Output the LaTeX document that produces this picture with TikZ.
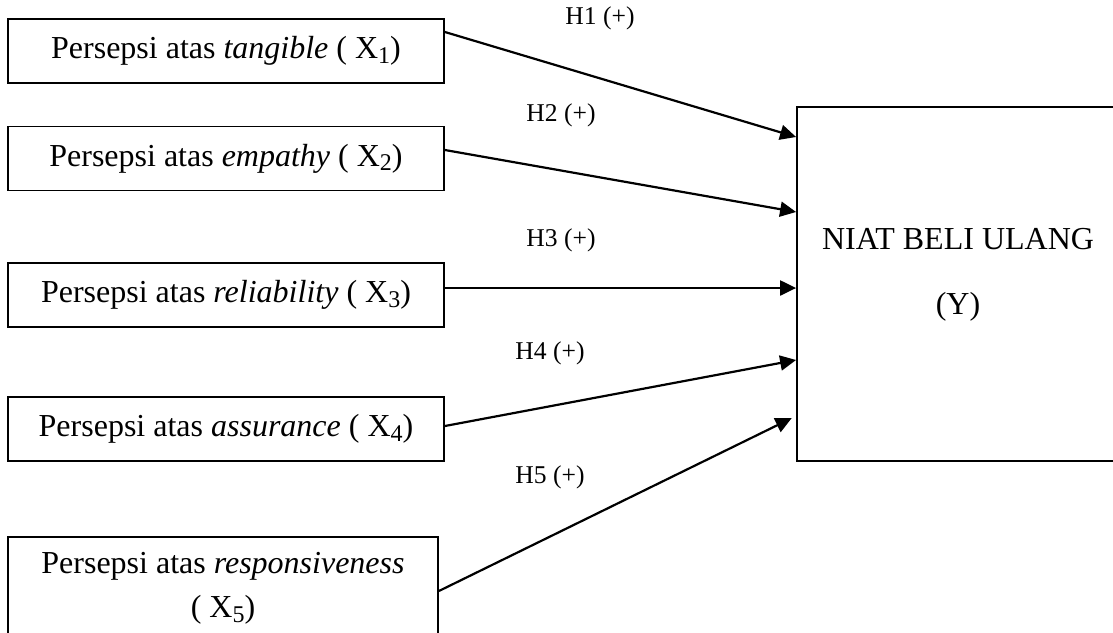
\documentclass[tikz,border=0pt]{standalone}
\usepackage{fontspec}
\setmainfont{Liberation Serif}
\usetikzlibrary{arrows.meta,positioning}

\newcommand{\varsub}[1]{X\raisebox{-0.32ex}{\fontsize{12}{12}\selectfont #1}}

\begin{document}
\begin{tikzpicture}[x=0.5pt,y=-0.5pt,
  varbox/.style={draw,line width=0.9pt,inner sep=0pt,minimum width=218pt,minimum height=32pt,
    font=\fontsize{16}{19.2}\selectfont},
  hyp/.style={font=\fontsize{12.8}{15}\selectfont},
  arr/.style={line width=1.1pt,-{Triangle[length=8pt,width=7.5pt]}}]
  \useasboundingbox (0,0) rectangle (1113,632);
  % independent variables
  \node[varbox] (x1) at (226,51) {Persepsi atas \textit{tangible} ( \varsub{1})};
  \node[varbox] (x2) at (226,158.5) {Persepsi atas \textit{empathy} ( \varsub{2})};
  \node[varbox] (x3) at (226,295) {Persepsi atas \textit{reliability} ( \varsub{3})};
  \node[varbox] (x4) at (226,429) {Persepsi atas \textit{assurance} ( \varsub{4})};
  \node[varbox,minimum width=215pt,minimum height=51.5pt,align=center,
    font=\fontsize{16}{22}\selectfont] (x5) at (223,588.5)
    {Persepsi atas \textit{responsiveness}\\( \varsub{5})};
  % dependent variable
  \node[draw,line width=0.9pt,minimum width=161pt,minimum height=177pt] (y) at (958,284) {};
  \node[align=center,font=\fontsize{16}{19.2}\selectfont] (ytext) at (958,274.5)
    {NIAT BELI ULANG\\[13.3pt](Y)};
  % hypotheses
  \draw[arr] ([yshift=9.5pt]x1.east) -- ([yshift=73.5pt]y.west);
  \draw[arr] ([yshift=4.25pt]x2.east) -- ([yshift=36pt]y.west);
  \draw[arr] ([yshift=3.5pt]x3.east) -- ([yshift=-2pt]y.west);
  \draw[arr] ([yshift=1.5pt]x4.east) -- ([yshift=-38pt]y.west);
  \draw[arr,shorten >=2.5pt] ([yshift=-1.25pt]x5.east) -- ([yshift=-66pt]y.west);
  \node[hyp] (h1) at (600,18) {H1 (+)};
  \node[hyp] (h2) at (561,115) {H2 (+)};
  \node[hyp] (h3) at (561,240) {H3 (+)};
  \node[hyp] (h4) at (550,353) {H4 (+)};
  \node[hyp] (h5) at (550,477) {H5 (+)};
\end{tikzpicture}
\end{document}
